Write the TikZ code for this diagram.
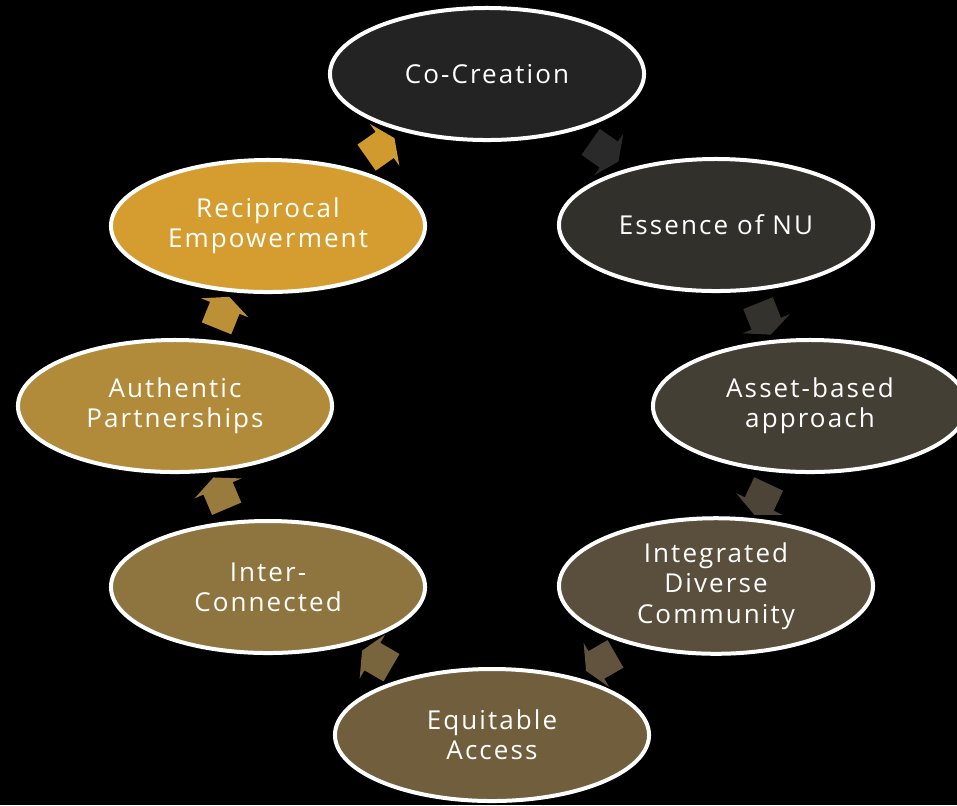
\documentclass[tikz,border=0pt]{standalone}
\usepackage{fontspec}
\setmainfont{Open Sans}[LetterSpace=8]
\usetikzlibrary{calc}
\usetikzlibrary{shapes.geometric}
\usetikzlibrary{shapes.arrows}
\definecolor{cocreation}{HTML}{232323}
\definecolor{essence}{HTML}{31302B}
\definecolor{asset}{HTML}{443F35}
\definecolor{integrated}{HTML}{5A4F3D}
\definecolor{equitable}{HTML}{705E3C}
\definecolor{interconn}{HTML}{8E743E}
\definecolor{authentic}{HTML}{B18A3A}
\definecolor{reciprocal}{HTML}{D59D30}

\begin{document}
\begin{tikzpicture}[x=0.025cm, y=-0.025cm]
    \tikzset{stage/.style={ellipse, draw=white, line width=0.1cm, minimum width=7.85cm, minimum height=3.3cm,
        align=center, text=white, font=\fontsize{18.5}{21.5}\selectfont}}
    \tikzset{cyclearrow/.style={single arrow, inner xsep=0pt, inner ysep=0.39cm, minimum height=0.85cm,
        single arrow head extend=0.24cm, single arrow tip angle=130}}
    \fill[black] (0, 0) rectangle (957, 805);
    \clip (0, 0) rectangle (957, 805);
    \node[stage, fill=cocreation] (cocreation) at (487, 74) {Co-Creation};
    \node[stage, fill=essence] (essence) at (716, 225) {Essence of NU};
    \node[stage, fill=asset] (asset) at (810, 406) {Asset-based\\approach};
    \node[stage, fill=integrated] (integrated) at (716, 586) {Integrated\\Diverse\\Community};
    \node[stage, fill=equitable] (equitable) at (492, 735) {Equitable\\Access};
    \node[stage, fill=interconn] (interconn) at (268, 587) {Inter-\\Connected};
    \node[stage, fill=authentic] (authentic) at (175, 406) {Authentic\\Partnerships};
    \node[stage, fill=reciprocal] (reciprocal) at (268, 226) {Reciprocal\\Empowerment};
    \node[cyclearrow, fill=reciprocal!98!black, rotate=35] (arrowone) at ($(reciprocal)!0.5!(cocreation)$) {};
    \node[cyclearrow, fill=cocreation!97!white, rotate=-35] (arrowtwo) at ($(cocreation)!0.5!(essence)$) {};
    \node[cyclearrow, fill=essence!85!asset, rotate=-68] (arrowthree) at ($(essence)!0.5!(asset)$) {};
    \node[cyclearrow, fill=asset!70!integrated, rotate=-115] (arrowfour) at ($(asset)!0.5!(integrated)$) {};
    \node[cyclearrow, fill=integrated!70!equitable, rotate=210] (arrowfive) at ($(integrated)!0.5!(equitable)$) {};
    \node[cyclearrow, fill=equitable!70!interconn, rotate=150] (arrowsix) at ($(equitable)!0.5!(interconn)$) {};
    \node[cyclearrow, fill=interconn!70!authentic, rotate=113] (arrowseven) at ($(interconn)!0.5!(authentic)$) {};
    \node[cyclearrow, fill=authentic!70!reciprocal, rotate=68] (arroweight) at ($(authentic)!0.5!(reciprocal)$) {};
\end{tikzpicture}
\end{document}
